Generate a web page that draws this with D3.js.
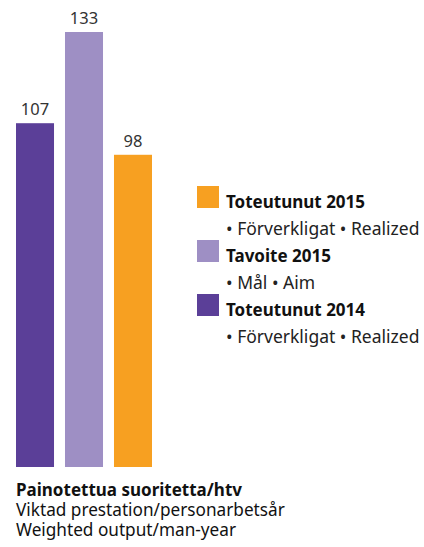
<!DOCTYPE html>
<html><head><meta charset="utf-8">
<script src="https://cdn.jsdelivr.net/npm/d3@7"></script>
<style>body{margin:0;background:#fff}</style>
</head><body>
<svg id="c" width="424" height="547"></svg>
<script>
const categories = ["Toteutunut 2014", "Tavoite 2015", "Toteutunut 2015"];
const values = [107, 133, 98];
const colors = ["#5b3f98", "#9e8fc4", "#f7a021"];
const legendTitles = ["Toteutunut 2015", "Tavoite 2015", "Toteutunut 2014"];
const legendSubs = ["• Förverkligat • Realized", "• Mål • Aim", "• Förverkligat • Realized"];
const legendColors = ["#f7a021", "#9e8fc4", "#5b3f98"];
const titleLines = ["Painotettua suoritetta/htv", "Viktad prestation/personarbetsår", "Weighted output/man-year"];

const FONT = "'Noto Sans', sans-serif";
const svg = d3.select("#c");
const x = d3.scaleBand().domain(categories).range([16, 152]).paddingInner(0.224).paddingOuter(0);
const y = d3.scaleLinear().domain([9, 133]).range([467, 32]);

svg.selectAll("rect.bar").data(values).join("rect")
  .attr("class","bar")
  .attr("x",(d,i)=>x(categories[i]))
  .attr("width",x.bandwidth())
  .attr("y",d=>y(d))
  .attr("height",d=>y(9)-y(d))
  .attr("fill",(d,i)=>colors[i]);

svg.selectAll("text.val").data(values).join("text")
  .attr("class","val")
  .attr("x",(d,i)=>x(categories[i])+x.bandwidth()/2)
  .attr("y",d=>y(d)-8)
  .attr("text-anchor","middle")
  .attr("font-family",FONT)
  .attr("font-weight",400)
  .attr("font-size",16.5)
  .attr("fill","#333")
  .text(d=>d);

const lg = svg.append("g");
legendTitles.forEach((t,i)=>{
  const g = lg.append("g").attr("transform",`translate(197,${186+i*54})`);
  g.append("rect").attr("width",22).attr("height",22).attr("fill",legendColors[i]);
  g.append("text").attr("x",29).attr("y",22).attr("font-family",FONT)
    .attr("font-weight",700).attr("font-size",17).attr("fill","#111").text(t);
  g.append("text").attr("x",29).attr("y",49).attr("font-family",FONT)
    .attr("font-weight",400).attr("font-size",17.5).attr("fill","#222").text(legendSubs[i]);
});

titleLines.forEach((t,i)=>{
  svg.append("text").attr("x",16).attr("y",496+i*20)
    .attr("font-family",FONT)
    .attr("font-weight",i===0?700:400)
    .attr("font-size",i===0?17:17.2).attr("fill","#111").text(t);
});
</script>
</body></html>
